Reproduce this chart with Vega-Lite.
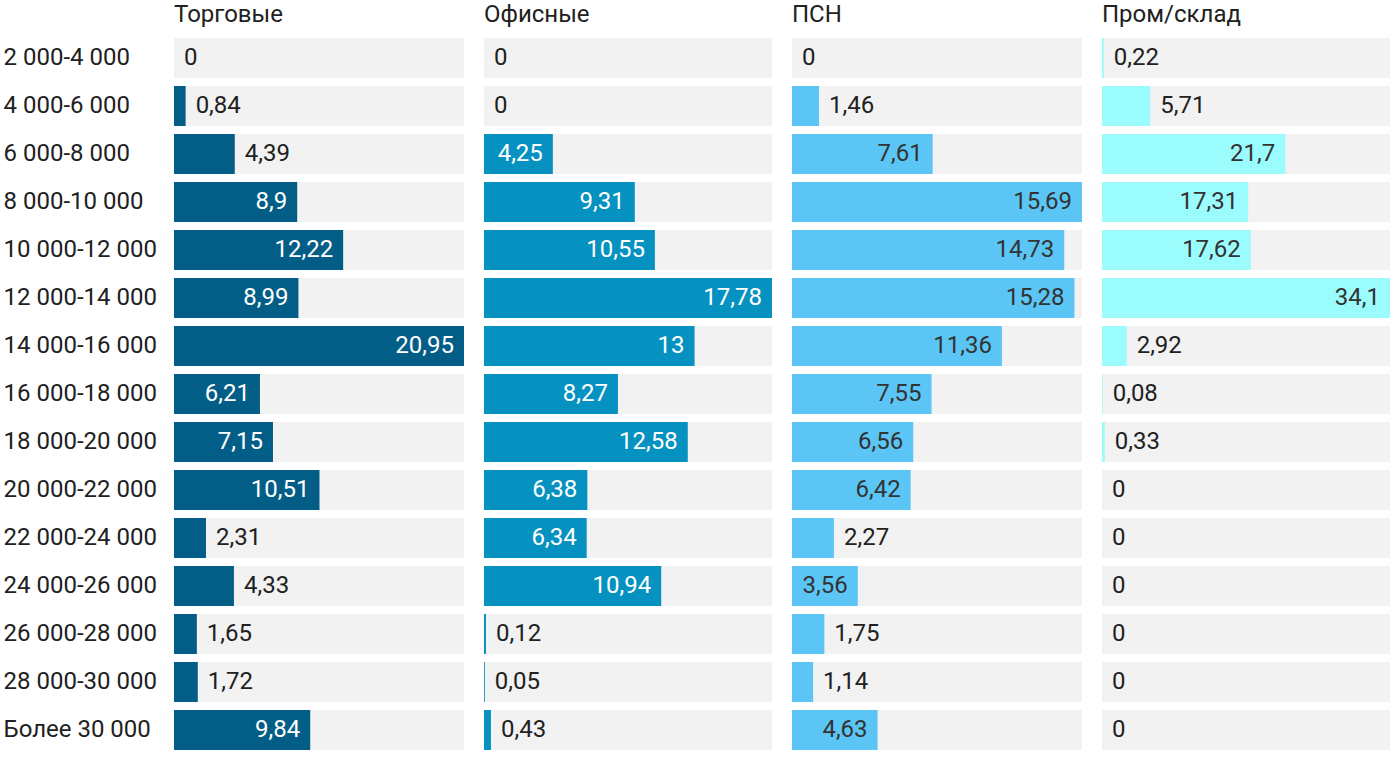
{
  "$schema": "https://vega.github.io/schema/vega-lite/v6.json",
  "padding": {"left": 3, "top": 3, "right": 10, "bottom": 0},
  "autosize": {"type": "pad"},
  "background": "#ffffff",
  "config": {
    "locale": {"number": {"decimal": ",", "thousands": " ", "grouping": [3], "currency": ["", " ₽"]}},
    "font": "Roboto",
    "view": {"stroke": null},
    "title": {"anchor": "start", "frame": "group", "fontSize": 24, "fontWeight": "normal", "color": "#212121", "font": "Roboto", "offset": 7},
    "text": {"fontSize": 24, "font": "Roboto"}
  },
  "datasets": {
    "rows": [
      {"range": "2 000-4 000", "type": "Торговые", "value": 0},
      {"range": "4 000-6 000", "type": "Торговые", "value": 0.84},
      {"range": "6 000-8 000", "type": "Торговые", "value": 4.39},
      {"range": "8 000-10 000", "type": "Торговые", "value": 8.9},
      {"range": "10 000-12 000", "type": "Торговые", "value": 12.22},
      {"range": "12 000-14 000", "type": "Торговые", "value": 8.99},
      {"range": "14 000-16 000", "type": "Торговые", "value": 20.95},
      {"range": "16 000-18 000", "type": "Торговые", "value": 6.21},
      {"range": "18 000-20 000", "type": "Торговые", "value": 7.15},
      {"range": "20 000-22 000", "type": "Торговые", "value": 10.51},
      {"range": "22 000-24 000", "type": "Торговые", "value": 2.31},
      {"range": "24 000-26 000", "type": "Торговые", "value": 4.33},
      {"range": "26 000-28 000", "type": "Торговые", "value": 1.65},
      {"range": "28 000-30 000", "type": "Торговые", "value": 1.72},
      {"range": "Более 30 000", "type": "Торговые", "value": 9.84},
      {"range": "2 000-4 000", "type": "Офисные", "value": 0},
      {"range": "4 000-6 000", "type": "Офисные", "value": 0},
      {"range": "6 000-8 000", "type": "Офисные", "value": 4.25},
      {"range": "8 000-10 000", "type": "Офисные", "value": 9.31},
      {"range": "10 000-12 000", "type": "Офисные", "value": 10.55},
      {"range": "12 000-14 000", "type": "Офисные", "value": 17.78},
      {"range": "14 000-16 000", "type": "Офисные", "value": 13},
      {"range": "16 000-18 000", "type": "Офисные", "value": 8.27},
      {"range": "18 000-20 000", "type": "Офисные", "value": 12.58},
      {"range": "20 000-22 000", "type": "Офисные", "value": 6.38},
      {"range": "22 000-24 000", "type": "Офисные", "value": 6.34},
      {"range": "24 000-26 000", "type": "Офисные", "value": 10.94},
      {"range": "26 000-28 000", "type": "Офисные", "value": 0.12},
      {"range": "28 000-30 000", "type": "Офисные", "value": 0.05},
      {"range": "Более 30 000", "type": "Офисные", "value": 0.43},
      {"range": "2 000-4 000", "type": "ПСН", "value": 0},
      {"range": "4 000-6 000", "type": "ПСН", "value": 1.46},
      {"range": "6 000-8 000", "type": "ПСН", "value": 7.61},
      {"range": "8 000-10 000", "type": "ПСН", "value": 15.69},
      {"range": "10 000-12 000", "type": "ПСН", "value": 14.73},
      {"range": "12 000-14 000", "type": "ПСН", "value": 15.28},
      {"range": "14 000-16 000", "type": "ПСН", "value": 11.36},
      {"range": "16 000-18 000", "type": "ПСН", "value": 7.55},
      {"range": "18 000-20 000", "type": "ПСН", "value": 6.56},
      {"range": "20 000-22 000", "type": "ПСН", "value": 6.42},
      {"range": "22 000-24 000", "type": "ПСН", "value": 2.27},
      {"range": "24 000-26 000", "type": "ПСН", "value": 3.56},
      {"range": "26 000-28 000", "type": "ПСН", "value": 1.75},
      {"range": "28 000-30 000", "type": "ПСН", "value": 1.14},
      {"range": "Более 30 000", "type": "ПСН", "value": 4.63},
      {"range": "2 000-4 000", "type": "Пром/склад", "value": 0.22},
      {"range": "4 000-6 000", "type": "Пром/склад", "value": 5.71},
      {"range": "6 000-8 000", "type": "Пром/склад", "value": 21.7},
      {"range": "8 000-10 000", "type": "Пром/склад", "value": 17.31},
      {"range": "10 000-12 000", "type": "Пром/склад", "value": 17.62},
      {"range": "12 000-14 000", "type": "Пром/склад", "value": 34.1},
      {"range": "14 000-16 000", "type": "Пром/склад", "value": 2.92},
      {"range": "16 000-18 000", "type": "Пром/склад", "value": 0.08},
      {"range": "18 000-20 000", "type": "Пром/склад", "value": 0.33},
      {"range": "20 000-22 000", "type": "Пром/склад", "value": 0},
      {"range": "22 000-24 000", "type": "Пром/склад", "value": 0},
      {"range": "24 000-26 000", "type": "Пром/склад", "value": 0},
      {"range": "26 000-28 000", "type": "Пром/склад", "value": 0},
      {"range": "28 000-30 000", "type": "Пром/склад", "value": 0},
      {"range": "Более 30 000", "type": "Пром/склад", "value": 0}
    ]
  },
  "data": {"name": "rows"},
  "transform": [
    {"joinaggregate": [{"op": "max", "field": "value", "as": "max"}], "groupby": ["type"]}
  ],
  "spacing": 20,
  "hconcat": [
    {
      "title": "Торговые",
      "width": 290,
      "height": 720,
      "transform": [{"filter": "datum.type === 'Торговые'"}],
      "encoding": {
        "y": {
          "field": "range", "type": "nominal", "sort": null,
          "scale": {"paddingInner": 0.1667, "paddingOuter": 0.0833},
          "axis": {"title": null, "domain": false, "ticks": false, "tickSize": 0, "labelAlign": "left", "labelPadding": 171, "labelFontSize": 24, "labelFont": "Roboto", "labelColor": "#212121", "labelLimit": 200}
        }
      },
      "layer": [
        {"mark": {"type": "bar", "color": "#F2F2F2"}, "encoding": {"x": {"field": "max", "type": "quantitative", "scale": {"nice": false, "zero": true}, "axis": null}}},
        {"mark": {"type": "bar", "color": "#035E87"}, "encoding": {"x": {"field": "value", "type": "quantitative", "axis": null}}},
        {"transform": [{"filter": "datum.value < 0.22 * datum.max"}], "mark": {"type": "text", "align": "left", "dx": 10, "color": "#212121"}, "encoding": {"x": {"field": "value", "type": "quantitative", "axis": null}, "text": {"field": "value", "type": "quantitative", "format": ".2~f"}}},
        {"transform": [{"filter": "datum.value >= 0.22 * datum.max"}], "mark": {"type": "text", "align": "right", "dx": -10, "color": "#ffffff"}, "encoding": {"x": {"field": "value", "type": "quantitative", "axis": null}, "text": {"field": "value", "type": "quantitative", "format": ".2~f"}}}
      ]
    },
    {
      "title": "Офисные",
      "width": 288,
      "height": 720,
      "transform": [{"filter": "datum.type === 'Офисные'"}],
      "encoding": {
        "y": {"field": "range", "type": "nominal", "sort": null, "scale": {"paddingInner": 0.1667, "paddingOuter": 0.0833}, "axis": null}
      },
      "layer": [
        {"mark": {"type": "bar", "color": "#F2F2F2"}, "encoding": {"x": {"field": "max", "type": "quantitative", "scale": {"nice": false, "zero": true}, "axis": null}}},
        {"mark": {"type": "bar", "color": "#0692C0"}, "encoding": {"x": {"field": "value", "type": "quantitative", "axis": null}}},
        {"transform": [{"filter": "datum.value < 0.22 * datum.max"}], "mark": {"type": "text", "align": "left", "dx": 10, "color": "#212121"}, "encoding": {"x": {"field": "value", "type": "quantitative", "axis": null}, "text": {"field": "value", "type": "quantitative", "format": ".2~f"}}},
        {"transform": [{"filter": "datum.value >= 0.22 * datum.max"}], "mark": {"type": "text", "align": "right", "dx": -10, "color": "#ffffff"}, "encoding": {"x": {"field": "value", "type": "quantitative", "axis": null}, "text": {"field": "value", "type": "quantitative", "format": ".2~f"}}}
      ]
    },
    {
      "title": "ПСН",
      "width": 290,
      "height": 720,
      "transform": [{"filter": "datum.type === 'ПСН'"}],
      "encoding": {
        "y": {"field": "range", "type": "nominal", "sort": null, "scale": {"paddingInner": 0.1667, "paddingOuter": 0.0833}, "axis": null}
      },
      "layer": [
        {"mark": {"type": "bar", "color": "#F2F2F2"}, "encoding": {"x": {"field": "max", "type": "quantitative", "scale": {"nice": false, "zero": true}, "axis": null}}},
        {"mark": {"type": "bar", "color": "#5BC6F5"}, "encoding": {"x": {"field": "value", "type": "quantitative", "axis": null}}},
        {"transform": [{"filter": "datum.value < 0.22 * datum.max"}], "mark": {"type": "text", "align": "left", "dx": 10, "color": "#212121"}, "encoding": {"x": {"field": "value", "type": "quantitative", "axis": null}, "text": {"field": "value", "type": "quantitative", "format": ".2~f"}}},
        {"transform": [{"filter": "datum.value >= 0.22 * datum.max"}], "mark": {"type": "text", "align": "right", "dx": -10, "color": "#333333"}, "encoding": {"x": {"field": "value", "type": "quantitative", "axis": null}, "text": {"field": "value", "type": "quantitative", "format": ".2~f"}}}
      ]
    },
    {
      "title": "Пром/склад",
      "width": 288,
      "height": 720,
      "transform": [{"filter": "datum.type === 'Пром/склад'"}],
      "encoding": {
        "y": {"field": "range", "type": "nominal", "sort": null, "scale": {"paddingInner": 0.1667, "paddingOuter": 0.0833}, "axis": null}
      },
      "layer": [
        {"mark": {"type": "bar", "color": "#F2F2F2"}, "encoding": {"x": {"field": "max", "type": "quantitative", "scale": {"nice": false, "zero": true}, "axis": null}}},
        {"mark": {"type": "bar", "color": "#9AFCFD"}, "encoding": {"x": {"field": "value", "type": "quantitative", "axis": null}}},
        {"transform": [{"filter": "datum.value < 0.22 * datum.max"}], "mark": {"type": "text", "align": "left", "dx": 10, "color": "#212121"}, "encoding": {"x": {"field": "value", "type": "quantitative", "axis": null}, "text": {"field": "value", "type": "quantitative", "format": ".2~f"}}},
        {"transform": [{"filter": "datum.value >= 0.22 * datum.max"}], "mark": {"type": "text", "align": "right", "dx": -10, "color": "#333333"}, "encoding": {"x": {"field": "value", "type": "quantitative", "axis": null}, "text": {"field": "value", "type": "quantitative", "format": ".2~f"}}}
      ]
    }
  ]
}
